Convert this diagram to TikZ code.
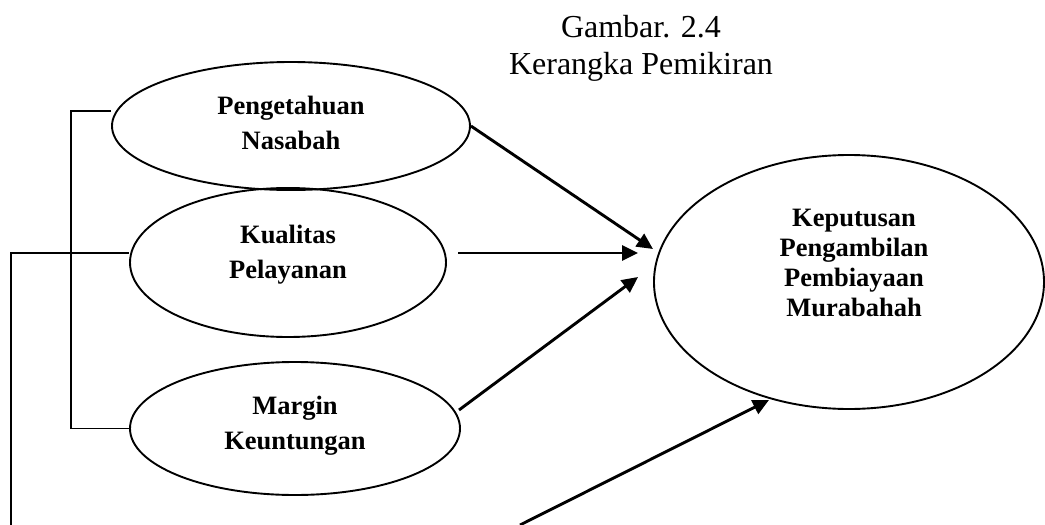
\documentclass[tikz,border=0pt]{standalone}
\usepackage{fontspec}
\setmainfont{Liberation Serif}
\usetikzlibrary{shapes.geometric,arrows.meta}
\begin{document}
\begin{tikzpicture}[x=1pt,y=-1pt,
  oval/.style={draw, ellipse, line width=1.9pt, inner sep=0pt},
  lbl/.style={font=\fontsize{26.5}{35}\selectfont\bfseries, align=center, inner sep=0pt},
  arr/.style={line width=2.9pt, -{Triangle[length=16pt,width=15pt]}},
  wire/.style={line width=1.8pt}]
\useasboundingbox (0,0) rectangle (1045,525);

% title
\node[font=\fontsize{32}{37}\selectfont, align=center, inner sep=0pt] (title) at (641,48) {Gambar. 2.4\\Kerangka Pemikiran};

% ellipses
\node[oval, minimum width=358pt, minimum height=128pt] (e1) at (291,126) {};
\node[oval, minimum width=316pt, minimum height=149pt] (e2) at (288,262.5) {};
\node[oval, minimum width=330pt, minimum height=133pt] (e3) at (295,428.5) {};
\node[oval, minimum width=390pt, minimum height=254pt] (ke) at (849,282) {};

% labels
\node[lbl] (t1) at (291,122.5) {Pengetahuan\\Nasabah};
\node[lbl] (t2) at (288,255) {Kualitas\\Pelayanan};
\node[lbl] (t3) at (295,425.5) {Margin\\Keuntungan};
\node[lbl, font=\fontsize{26.5}{30}\selectfont\bfseries] (t4) at (854,263) {Keputusan\\Pengambilan\\Pembiayaan\\Murabahah};

% bracket lines
\coordinate (bot) at (11,525);
\draw[wire] ([yshift=15pt]e1.west) -- ++(-40,0) |- (e3.west);
\draw[wire] ([yshift=9.5pt]e2.west) -| (bot);

% arrows
\coordinate (a1) at (653,249);
\coordinate (s2) at (458,253);
\coordinate (a2) at (638,253);
\coordinate (s3) at (459,410);
\coordinate (a3) at (638,277);
\coordinate (s4) at (520,525);
\coordinate (a4) at (769,400);
\draw[arr] (e1.east) -- (a1);
\draw[arr] (s2) -- (a2);
\draw[arr] (s3) -- (a3);
\draw[arr] (s4) -- (a4);
\end{tikzpicture}
\end{document}
